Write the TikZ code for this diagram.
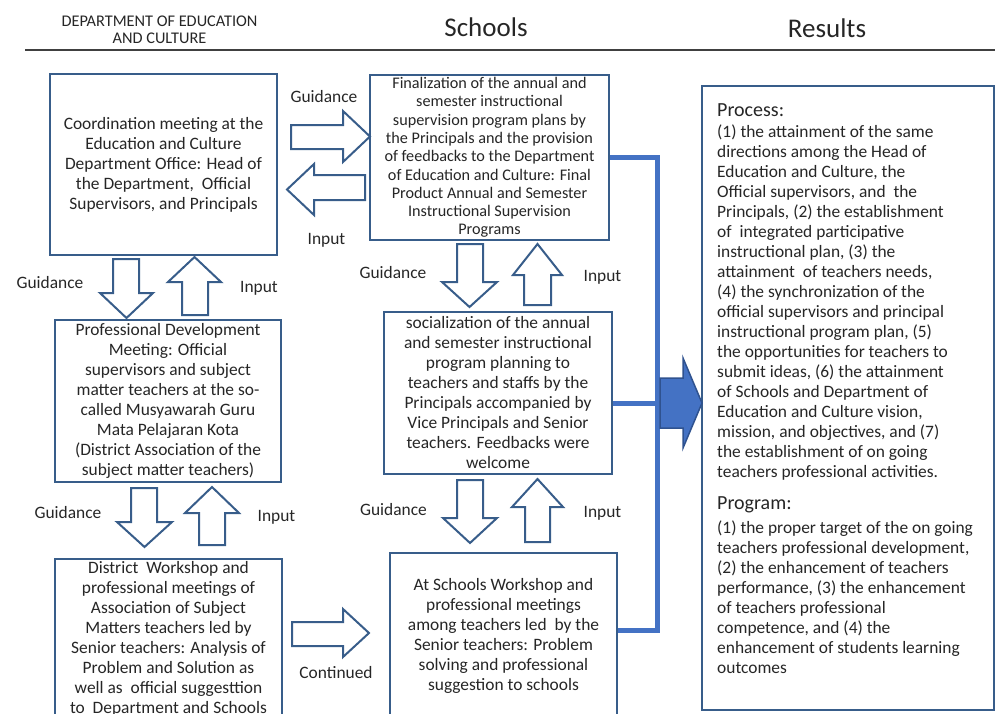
\documentclass[tikz,border=0pt]{standalone}
\usepackage{fontspec}
\setmainfont{Carlito}
\definecolor{boxc}{RGB}{56,93,138}
\definecolor{connc}{RGB}{68,114,196}
\definecolor{bigc}{RGB}{47,82,143}
\definecolor{txt}{RGB}{38,38,38}
\begin{document}
\begin{tikzpicture}[x=1pt,y=-1pt,
  box/.style={draw=boxc, line width=2.2pt, fill=white, align=center, inner sep=0pt, text=txt, font=\fontsize{17.4}{20}\selectfont},
  barrow/.style={draw=boxc, line width=2pt, fill=white, line join=miter},
  lbl/.style={text=txt, font=\fontsize{17.4}{20}\selectfont, inner sep=0pt},
  conn/.style={draw=connc, line width=5pt},
  bigarrow/.style={draw=bigc, line width=1.5pt, fill=connc, line join=miter}
]
\useasboundingbox (0,0) rectangle (996,713);
\clip (0,0) rectangle (996,713);

% headers
\node[lbl, align=center, font=\fontsize{16.3}{17}\selectfont] (h1) at (159.5,29.5) {DEPARTMENT OF EDUCATION\\AND CULTURE};
\node[lbl, font=\fontsize{27}{30}\selectfont] (h2) at (486,27) {Schools};
\node[lbl, font=\fontsize{27}{30}\selectfont] (h3) at (827,28) {Results};
\coordinate (hl1) at (25,50);
\coordinate (hl2) at (995,50);
\draw[line width=1.2pt, draw=black!75] (hl1) -- (hl2);

% boxes
\node[box, minimum width=227pt, minimum height=181pt] (A) at (163.5,164.5)
 {Coordination meeting at the\\Education and Culture\\Department Office: Head of\\the Department,\ \ Official\\Supervisors, and Principals};
\node[box, minimum width=239pt, minimum height=165pt, font=\fontsize{16.2}{18.3}\selectfont] (B) at (489.5,157.5)
 {Finalization of the annual and\\semester instructional\\supervision program plans by\\the Principals and the provision\\of feedbacks to the Department\\of Education and Culture: Final\\Product Annual and Semester\\Instructional Supervision\\Programs};
\node[box, minimum width=226pt, minimum height=162pt] (C) at (168,401)
 {Professional Development\\Meeting: Official\\supervisors and subject\\matter teachers at the so-\\called Musyawarah Guru\\Mata Pelajaran Kota\\(District Association of the\\subject matter teachers)};
\node[box, minimum width=228pt, minimum height=162pt] (D) at (498,393)
 {socialization of the annual\\and semester instructional\\program planning to\\teachers and staffs by the\\Principals accompanied by\\Vice Principals and Senior\\teachers. Feedbacks were\\welcome};
\node[box, minimum width=227pt, minimum height=159pt] (E) at (168.5,638.5)
 {District\ \ Workshop and\\professional meetings of\\Association of Subject\\Matters teachers led by\\Senior teachers: Analysis of\\Problem and Solution as\\well as\ \ official suggesttion\\to\ \ Department and Schools};
\node[box, minimum width=227pt, minimum height=166pt] (F) at (503.5,636)
 {At Schools Workshop and\\professional meetings\\among teachers led\ \ by the\\Senior teachers: Problem\\solving and professional\\suggestion to schools};
\node[draw=boxc, line width=2.2pt, fill=white, minimum width=292pt, minimum height=624pt, inner sep=0pt] (G) at (848,398) {};

% results text
\node[lbl, anchor=west, font=\fontsize{20}{24}\selectfont] (Gp) at (717,110) {Process:};
\node[lbl, anchor=west, align=left] (Gpt) at (717,303)
 {(1) the attainment of the same\\directions among the Head of\\Education and Culture, the\\Official supervisors, and\ \ the\\Principals, (2) the establishment\\of\ \ integrated participative\\instructional plan, (3) the\\attainment\ \ of teachers needs,\\(4) the synchronization of the\\official supervisors and principal\\instructional program plan, (5)\\the opportunities for teachers to\\submit ideas, (6) the attainment\\of Schools and Department of\\Education and Culture vision,\\mission, and objectives, and (7)\\the establishment of on going\\teachers professional activities.};
\node[lbl, anchor=west, font=\fontsize{20}{24}\selectfont] (Gq) at (717,505) {Program:};
\node[lbl, anchor=west, align=left] (Gqt) at (717,597)
 {(1) the proper target of the on going\\teachers professional development,\\(2) the enhancement of teachers\\performance, (3) the enhancement\\of teachers professional\\competence, and (4) the\\enhancement of students learning\\outcomes};

% block arrows
% A -> B (Guidance)
\draw[barrow] (291,125) -- (343,125) -- (343,111) -- (370,136.5) -- (343,162) -- (343,149) -- (291,149) -- cycle;
% B -> A (Input)
\draw[barrow] (365,175) -- (314,175) -- (314,164) -- (287,189.5) -- (314,215) -- (314,200) -- (365,200) -- cycle;
% A -> C
\draw[barrow] (113,259) -- (139,259) -- (139,293) -- (153,293) -- (126.5,318) -- (100,293) -- (113,293) -- cycle;
% C -> A
\draw[barrow] (182,315) -- (182,282) -- (168,282) -- (194.5,257) -- (221,282) -- (208,282) -- (208,315) -- cycle;
% C -> E
\draw[barrow] (131,488) -- (157,488) -- (157,522) -- (172,522) -- (144.5,547) -- (117,522) -- (131,522) -- cycle;
% E -> C
\draw[barrow] (199,545) -- (199,513) -- (185,513) -- (212,487) -- (239,513) -- (225,513) -- (225,545) -- cycle;
% B -> D
\draw[barrow] (457,244) -- (483,244) -- (483,282) -- (497,282) -- (469.5,307) -- (442,282) -- (457,282) -- cycle;
% D -> B
\draw[barrow] (524,305) -- (524,275) -- (513,275) -- (537.5,244) -- (562,275) -- (551,275) -- (551,305) -- cycle;
% D -> F
\draw[barrow] (457,480) -- (483,480) -- (483,518) -- (497,518) -- (470,543) -- (443,518) -- (457,518) -- cycle;
% F -> D
\draw[barrow] (525,542) -- (525,507) -- (512,507) -- (537.5,479) -- (563,507) -- (550,507) -- (550,542) -- cycle;
% E -> F (Continued)
\draw[barrow] (292,622) -- (343,622) -- (343,609) -- (369,633) -- (343,657) -- (343,646) -- (292,646) -- cycle;

% labels
\node[lbl] (g1) at (324,97) {Guidance};
\node[lbl] (i1) at (326.5,240) {Input};
\node[lbl] (g2) at (50,283) {Guidance};
\node[lbl] (i2) at (259,288) {Input};
\node[lbl] (g3) at (68,513) {Guidance};
\node[lbl] (i3) at (276.5,517) {Input};
\node[lbl] (g4) at (393,273) {Guidance};
\node[lbl] (i4) at (602.5,277) {Input};
\node[lbl] (g5) at (393.5,510) {Guidance};
\node[lbl] (i5) at (602.5,513) {Input};
\node[lbl] (c1) at (336,673) {Continued};

% connectors to results
\coordinate (j1) at (657,157.5);
\coordinate (j2) at (657,403);
\coordinate (j3) at (657,630);
\draw[conn] (B.east) -- (j1) -- (j3) -- (F.east |- j3);
\draw[conn] (D.east |- j2) -- (j2);
\draw[bigarrow] (660,378) -- (683,378) -- (683,358) -- (702,403) -- (683,448) -- (683,428) -- (660,428) -- cycle;
\end{tikzpicture}
\end{document}
